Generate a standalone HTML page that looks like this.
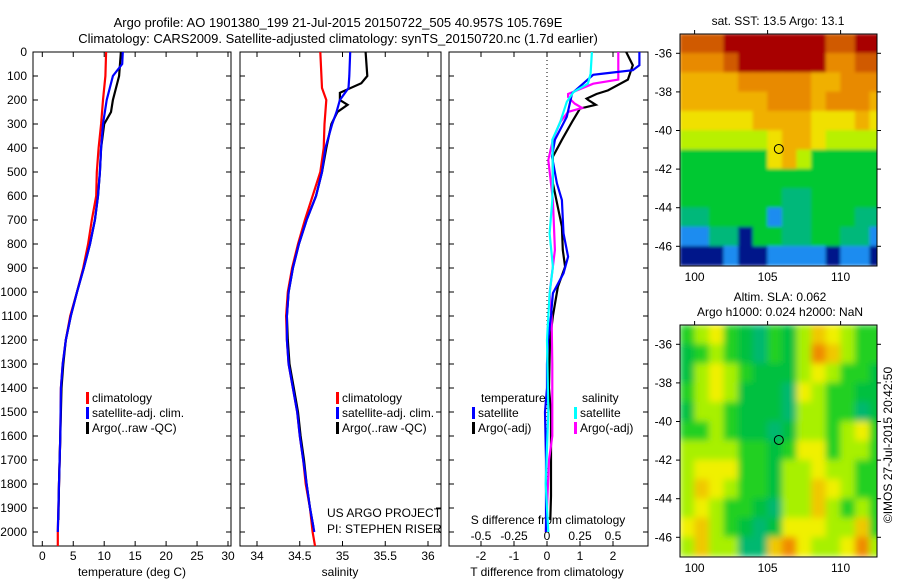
<!DOCTYPE html>
<html><head><meta charset="utf-8"><style>
body{margin:0;background:#fff;}
svg{display:block;font-family:"Liberation Sans",sans-serif;}
</style></head><body>
<svg id="fig" width="900" height="580" viewBox="0 0 900 580" xmlns="http://www.w3.org/2000/svg">
<defs>
<clipPath id="c1"><rect x="33" y="52" width="198" height="494"/></clipPath>
<clipPath id="c2"><rect x="240" y="52" width="201" height="494"/></clipPath>
<clipPath id="c3"><rect x="449" y="52" width="199" height="494"/></clipPath>
<clipPath id="cm1"><rect x="680" y="34" width="197" height="232"/></clipPath>
<clipPath id="cm2"><rect x="680" y="325" width="197" height="232"/></clipPath>
<filter id="blur" x="0" y="0" width="1" height="1"><feGaussianBlur stdDeviation="3.5"/></filter>
<filter id="blur2" x="0" y="0" width="1" height="1"><feGaussianBlur stdDeviation="1.5"/></filter>
</defs>
<text x="338" y="27" font-size="13" text-anchor="middle">Argo profile: AO 1901380_199 21-Jul-2015 20150722_505 40.957S 105.769E</text>
<text x="338" y="43" font-size="13" text-anchor="middle">Climatology: CARS2009. Satellite-adjusted climatology: synTS_20150720.nc (1.7d earlier)</text>
<g id="g"></g>
</svg>
<script>
// ---- profile data ----
const depthTicks=[0,100,200,300,400,500,600,700,800,900,1000,1100,1200,1300,1400,1500,1600,1700,1800,1900,2000];
const tTicks=[0,5,10,15,20,25,30];
const sTicks=[34,34.5,35,35.5,36];
const sTickLabels=["34","34.5","35","35.5","36"];
const dTTicks=[-2,-1,0,1,2];
const dSTicks=[-0.5,-0.25,0,0.25,0.5];
const dSTickLabels=["-0.5","-0.25","0","0.25","0.5"];

const tClimDepth=[0,100,200,300,400,500,600,700,800,900,1000,1100,1200,1300,1400,1600,1800,2000,2060];
const tClimVal=[10.3,10.2,9.8,9.5,9.1,8.8,8.7,8.0,7.4,6.6,5.6,4.5,3.8,3.3,3.0,2.9,2.7,2.5,2.5];
const tSatDepth=[0,50,100,150,200,300,400,500,600,700,800,900,1000,1100,1200,1300,1400,1600,1800,2000];
const tSatVal=[13.0,12.9,11.4,10.9,10.4,9.8,9.5,9.3,9.0,8.5,7.7,6.7,5.6,4.6,3.8,3.3,3.0,2.9,2.7,2.5];
const tArgoDepth=[0,100,150,200,250,300,400,500,600,700,800,900,1000,1100,1200,1300,1400,1600,1800,1950];
const tArgoVal=[12.7,12.4,11.9,11.4,11.1,10.0,9.5,9.3,9.0,8.5,7.7,6.7,5.6,4.6,3.8,3.4,3.1,2.9,2.7,2.6];

const sClimDepth=[0,150,200,300,400,500,600,700,800,900,1000,1100,1200,1300,1400,1500,1600,1700,1800,1900,2000,2060];
const sClimVal=[34.74,34.76,34.81,34.79,34.78,34.74,34.65,34.56,34.48,34.41,34.36,34.34,34.35,34.37,34.42,34.47,34.50,34.54,34.57,34.62,34.65,34.68];
const sSatDepth=[0,100,150,200,250,300,400,500,600,700,800,900,1000,1100,1200,1300,1400,1500,1600,1700,1800,1900,2000];
const sSatVal=[35.09,35.08,35.07,34.97,34.93,34.88,34.80,34.76,34.69,34.58,34.49,34.42,34.37,34.35,34.35,34.37,34.42,34.47,34.50,34.54,34.58,34.62,34.67];
const sArgoDepth=[0,100,130,170,200,220,250,300,400,500,600,700,800,900,1000,1100,1200,1300,1400,1500,1600,1700,1800,1900,1980];
const sArgoVal=[35.27,35.29,35.22,34.97,34.97,35.06,34.94,34.87,34.81,34.76,34.69,34.58,34.49,34.42,34.37,34.35,34.36,34.38,34.43,34.48,34.51,34.55,34.58,34.62,34.66];

const dTSatDepth=[0,55,76,90,95,172,270,366,436,547,617,756,853,922,1005,1100,1200,1300,1400,1500,1700,1900,2000];
const dTSatVal=[2.8,2.8,2.6,1.7,1.4,0.76,0.6,0.24,0.15,0.3,0.45,0.5,0.64,0.5,0.18,0.12,0.03,0.0,0.0,-0.06,-0.03,-0.03,-0.03];
const dTArgoDepth=[0,55,115,160,175,194,200,220,236,291,366,436,547,728,825,895,978,1100,1200,1400,1500,1700,1850,1950];
const dTArgoVal=[2.4,2.6,2.45,1.85,1.5,1.2,1.25,1.48,1.0,0.76,0.45,0.18,0.18,0.45,0.48,0.55,0.33,0.18,0.09,0.06,0.12,0.12,0.12,0.1];
const dSArgoDepth=[0,115,132,175,188,215,233,250,292,366,450,617,825,1005,1100,1300,1600,1700,1900,2000];
const dSArgoVal=[0.54,0.54,0.35,0.16,0.16,0.21,0.265,0.16,0.1,0.045,0.01,0.045,0.06,0.02,0.035,0.04,0.04,0.015,0.0,-0.01];
const dSSatDepth=[0,90,132,167,208,292,366,506,617,756,895,1005,1200,1500,1800,2000];
const dSSatVal=[0.34,0.33,0.31,0.2,0.15,0.1,0.04,0.045,0.04,0.02,0.045,0.02,0.0,0.01,-0.01,0.01];

// ---- map data ----
const mapLonTicks=[100,105,110];
const mapLatTicks=[-36,-38,-40,-42,-44,-46];
const sstRows=["88899999998899","77789999997788","66667777766777","66666677767776","55555666655565","44444456654444","33333356433333","33333333333333","33333332233333","22333312233322","11220332233221","00010011110110"];
const slaRows=["34532132465433","23432132476433","24543222454332","34542221543322","24432221443312","33432212443453","44443323553443","45553324454433","46543324465433","45433214464343","56432125554463","46441167544574"];
const argoLon=105.769, argoLat=-40.957;

const NS="http://www.w3.org/2000/svg";
const G=document.getElementById('g');
function el(tag,attrs,parent,txt){const e=document.createElementNS(NS,tag);for(const k in attrs)e.setAttribute(k,attrs[k]);if(txt!==undefined)e.textContent=txt;(parent||G).appendChild(e);return e;}
const Y=d=>52+d*0.24;
const X1=t=>42.3+t*6.19;
const X2=s=>257+(s-34)*85.5;
const X3=t=>547+t*33;
const X3s=s=>547+s*132;

function panel(name,x0,w){
  const r=el('rect',{x:x0,y:52,width:w,height:494,fill:'none',stroke:'#000','stroke-width':1});
  
  
  depthTicks.forEach(d=>{
    const t1=el('line',{x1:x0,x2:x0+5,y1:Y(d),y2:Y(d),stroke:'#000'});
    
    
    const t2=el('line',{x1:x0+w-5,x2:x0+w,y1:Y(d),y2:Y(d),stroke:'#000'});
    
    
  });
}
function xticks(vals,labels,fx,ly){
  vals.forEach((v,i)=>{
    const a=el('line',{x1:fx(v),x2:fx(v),y1:52,y2:57,stroke:'#000'});
    
    
    const b=el('line',{x1:fx(v),x2:fx(v),y1:541,y2:546,stroke:'#000'});
    
    
    if(ly){const t=el('text',{x:fx(v),y:ly,'font-size':12,'text-anchor':'middle'},G,labels[i]);
    
    }
  });
}
function line(name,ds,vs,fx,color,clip,wd){
  const p=ds.map((d,i)=>fx(vs[i]).toFixed(1)+','+Y(d).toFixed(1)).join(' ');
  const e=el('polyline',{points:p,fill:'none',stroke:color,'stroke-width':wd||2.2,'clip-path':'url(#'+clip+')'});
  
  
}
function txt(name,x,y,s,size,anchor){
  const t=el('text',{x:x,y:y,'font-size':size||12,'text-anchor':anchor||'start'},G,s);
  
  
  return t;
}
function legend(name,x,y,color,label){
  const m=el('rect',{x:x,y:y-6,width:3,height:12,fill:color});
  
  
  txt(name,x+6,y+4,label);
}

// panel 1
panel('temperature-panel',33,198);
depthTicks.forEach(d=>txt('y-tick-label',27,Y(d)+4,String(d),12,'end'));
xticks(tTicks,tTicks.map(String),X1,560);
txt('x-axis-title-temperature',132,576,'temperature (deg C)',12,'middle');
line('temp-climatology',tClimDepth,tClimVal,X1,'#f00','c1');
line('temp-argo',tArgoDepth,tArgoVal,X1,'#000','c1');
line('temp-satellite',tSatDepth,tSatVal,X1,'#00f','c1');
legend('legend-climatology',86,398,'#f00','climatology');
legend('legend-satellite',86,413,'#00f','satellite-adj. clim.');
legend('legend-argo',86,428,'#000','Argo(..raw -QC)');

// panel 2
panel('salinity-panel',240,201);
xticks(sTicks,sTickLabels,X2,560);
txt('x-axis-title-salinity',340,576,'salinity',12,'middle');
line('sal-climatology',sClimDepth,sClimVal,X2,'#f00','c2');
line('sal-argo',sArgoDepth,sArgoVal,X2,'#000','c2');
line('sal-satellite',sSatDepth,sSatVal,X2,'#00f','c2');
legend('legend-climatology-2',336,398,'#f00','climatology');
legend('legend-satellite-2',336,413,'#00f','satellite-adj. clim.');
legend('legend-argo-2',336,428,'#000','Argo(..raw -QC)');
txt('project-label',327,517,'US ARGO PROJECT');
txt('pi-label',327,533,'PI: STEPHEN RISER');

// panel 3
panel('difference-panel',449,199);
xticks(dTTicks,dTTicks.map(String),X3,560);
dSTicks.forEach((v,i)=>txt('s-tick-label',X3s(v),540,dSTickLabels[i],12,'middle'));
txt('x-axis-title-tdiff',547,576,'T difference from climatology',12,'middle');
txt('s-axis-title',548,524,'S difference from climatology',12,'middle');
const zl=el('line',{x1:547,x2:547,y1:52,y2:505,stroke:'#000','stroke-dasharray':'1,3'});


line('dt-argo',dTArgoDepth,dTArgoVal,X3,'#000','c3');
line('ds-argo',dSArgoDepth,dSArgoVal,X3s,'#f0f','c3');
line('dt-satellite',dTSatDepth,dTSatVal,X3,'#00f','c3');
line('ds-satellite',dSSatDepth,dSSatVal,X3s,'#0ff','c3');
txt('legend-temperature-header',481,402,'temperature');
txt('legend-salinity-header',582,402,'salinity');
legend('legend-t-satellite',472,413,'#00f','satellite');
legend('legend-t-argo',472,428,'#000','Argo(-adj)');
legend('legend-s-satellite',574,413,'#0ff','satellite');
legend('legend-s-argo',574,428,'#f0f','Argo(-adj)');

// maps
const MX=lon=>680+(lon-99)*14.6;
const MY=(top,lat)=>top+(-35-lat)*19.3;
const sstPal=['#00138a','#1a8cf0','#00b87a','#00c832','#b8f000','#f0e000','#f0b000','#e88a00','#d05a00','#a80000'];
const slaPal=['#00e0d0','#00b870','#00c040','#20d020','#a8f000','#f0f000','#f0c800','#f08a00'];
function map(name,rows,pal,top,clip,blur){
  const gg=el('g',{'clip-path':'url(#'+clip+')'});
  
  
  const inner=el('g',{filter:'url(#'+blur+')'},gg);
  rows.forEach((row,ri)=>{
    for(let ci=0;ci<row.length;ci++){
      const lon=99+ci, lat=-35-ri;
      const c=el('rect',{x:MX(lon)-0.3,y:MY(top,lat)-0.3,width:15.2,height:19.9,fill:pal[+row[ci]]},inner);
      
      
    }
  });
  const f=el('rect',{x:680,y:top,width:197,height:232,fill:'none',stroke:'#000'});
  
  
  mapLonTicks.forEach(v=>{
    const a=el('line',{x1:MX(v),x2:MX(v),y1:top,y2:top-4,stroke:'#000'});
    
    
    txt('map-x-tick-label',MX(v),top+232+15,String(v),12,'middle');
  });
  mapLatTicks.forEach(v=>{
    const a=el('line',{x1:680,x2:676,y1:MY(top,v),y2:MY(top,v),stroke:'#000'});
    
    
    const b=el('line',{x1:877,x2:881,y1:MY(top,v),y2:MY(top,v),stroke:'#000'});
    
    
    txt('map-y-tick-label',672,MY(top,v)+4,String(v),12,'end');
  });
  const m=el('circle',{cx:MX(argoLon),cy:MY(top,argoLat),r:4.5,fill:'none',stroke:'#000'});
  
  
}
map('sst-map',sstRows,sstPal,34,'cm1','blur2');
map('sla-map',slaRows,slaPal,325,'cm2','blur');
txt('sst-map-title',778,25,'sat. SST: 13.5 Argo: 13.1',12,'middle');
txt('sla-map-title-1',780,301,'Altim. SLA: 0.062',12,'middle');
txt('sla-map-title-2',780,316,'Argo h1000: 0.024 h2000: NaN',12,'middle');
const cr=txt('credit-label',0,0,'\u00a9IMOS 27-Jul-2015 20:42:50',12,'middle');
cr.setAttribute('transform','translate(892,445) rotate(-90)');
</script>
</body></html>
